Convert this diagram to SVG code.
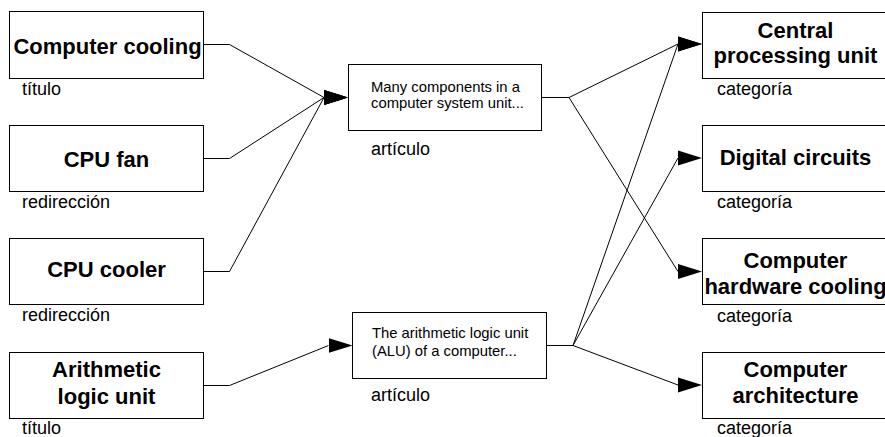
<svg xmlns="http://www.w3.org/2000/svg" width="885" height="437" viewBox="0 0 885 437">
  <style>
    .box { fill: #ffffff; stroke: #000000; stroke-width: 1; }
    .title { font-family: "Liberation Sans", Arial, sans-serif; font-size: 22px; font-weight: bold; fill: #000000; text-anchor: middle; }
    .snippet { font-family: "Liberation Sans", Arial, sans-serif; font-size: 14.8px; fill: #000000; }
    .kind { font-family: "Liberation Sans", Arial, sans-serif; font-size: 18px; fill: #000000; }
    .link { fill: none; stroke: #000000; stroke-width: 1; }
  </style>
  <defs>
    <!-- arrowheads always point to the right, whatever the line's slope -->
    <marker id="arrow" markerUnits="userSpaceOnUse" markerWidth="24" markerHeight="16" refX="0" refY="8" orient="0">
      <path d="M0,0.5 L24,8 L0,15.5 Z" fill="#000000"/>
    </marker>
  </defs>
  <rect width="885" height="437" fill="#ffffff"/>

  <!-- connectors -->
  <g id="connectors">
    <polyline class="link" points="203.5,44.5 229.5,44.5 324,97.5" marker-end="url(#arrow)"/>
    <polyline class="link" points="203.5,158.5 229.5,158.5 324,97.5" marker-end="url(#arrow)"/>
    <polyline class="link" points="203.5,271.5 229.5,271.5 324,97.5" marker-end="url(#arrow)"/>
    <polyline class="link" points="203.5,385.5 229.5,385.5 328.5,345.5" marker-end="url(#arrow)"/>
    <polyline class="link" points="542,97.5 569,97.5 678,44" marker-end="url(#arrow)"/>
    <polyline class="link" points="569,97.5 678,271.5" marker-end="url(#arrow)"/>
    <polyline class="link" points="547,345.5 573,345.5 678,44" marker-end="url(#arrow)"/>
    <polyline class="link" points="573,345.5 678,158" marker-end="url(#arrow)"/>
    <polyline class="link" points="573,345.5 678,385" marker-end="url(#arrow)"/>
  </g>

  <!-- source pages -->
  <g id="computer-cooling">
    <rect class="box" x="9.5" y="11.5" width="194" height="67"/>
    <text class="title" x="107.5" y="54">Computer cooling</text>
    <text class="kind" x="22" y="95">título</text>
  </g>
  <g id="cpu-fan">
    <rect class="box" x="9.5" y="125.5" width="194" height="66"/>
    <text class="title" x="106.5" y="167">CPU fan</text>
    <text class="kind" x="22" y="208">redirección</text>
  </g>
  <g id="cpu-cooler">
    <rect class="box" x="9.5" y="238.5" width="194" height="66"/>
    <text class="title" x="106.5" y="277">CPU cooler</text>
    <text class="kind" x="22" y="321">redirección</text>
  </g>
  <g id="arithmetic-logic-unit">
    <rect class="box" x="9.5" y="352.5" width="194" height="66"/>
    <text class="title" x="106.5" y="377">Arithmetic</text>
    <text class="title" x="106.5" y="404">logic unit</text>
    <text class="kind" x="22" y="434">título</text>
  </g>

  <!-- articles -->
  <g id="article-cooling">
    <rect class="box" x="348.5" y="64.5" width="193" height="66"/>
    <text class="snippet" x="371" y="92">Many components in a</text>
    <text class="snippet" x="371" y="108">computer system unit...</text>
    <text class="kind" x="371" y="155">artículo</text>
  </g>
  <g id="article-alu">
    <rect class="box" x="352.5" y="312.5" width="194" height="66"/>
    <text class="snippet" x="372" y="338">The arithmetic logic unit</text>
    <text class="snippet" x="372" y="356">(ALU) of a computer...</text>
    <text class="kind" x="371" y="401">artículo</text>
  </g>

  <!-- categories -->
  <g id="cat-cpu">
    <rect class="box" x="702.5" y="12.5" width="194" height="66"/>
    <text class="title" x="795.5" y="38">Central</text>
    <text class="title" x="795.5" y="63">processing unit</text>
    <text class="kind" x="717" y="95">categoría</text>
  </g>
  <g id="cat-digital">
    <rect class="box" x="702.5" y="125.5" width="194" height="66"/>
    <text class="title" x="795.5" y="165">Digital circuits</text>
    <text class="kind" x="717" y="208">categoría</text>
  </g>
  <g id="cat-hardware-cooling">
    <rect class="box" x="702.5" y="238.5" width="194" height="66"/>
    <text class="title" x="795.5" y="268">Computer</text>
    <text class="title" x="795.5" y="294">hardware cooling</text>
    <text class="kind" x="717" y="322">categoría</text>
  </g>
  <g id="cat-architecture">
    <rect class="box" x="702.5" y="352.5" width="194" height="66"/>
    <text class="title" x="795.5" y="377">Computer</text>
    <text class="title" x="795.5" y="403">architecture</text>
    <text class="kind" x="717" y="434">categoría</text>
  </g>
</svg>
